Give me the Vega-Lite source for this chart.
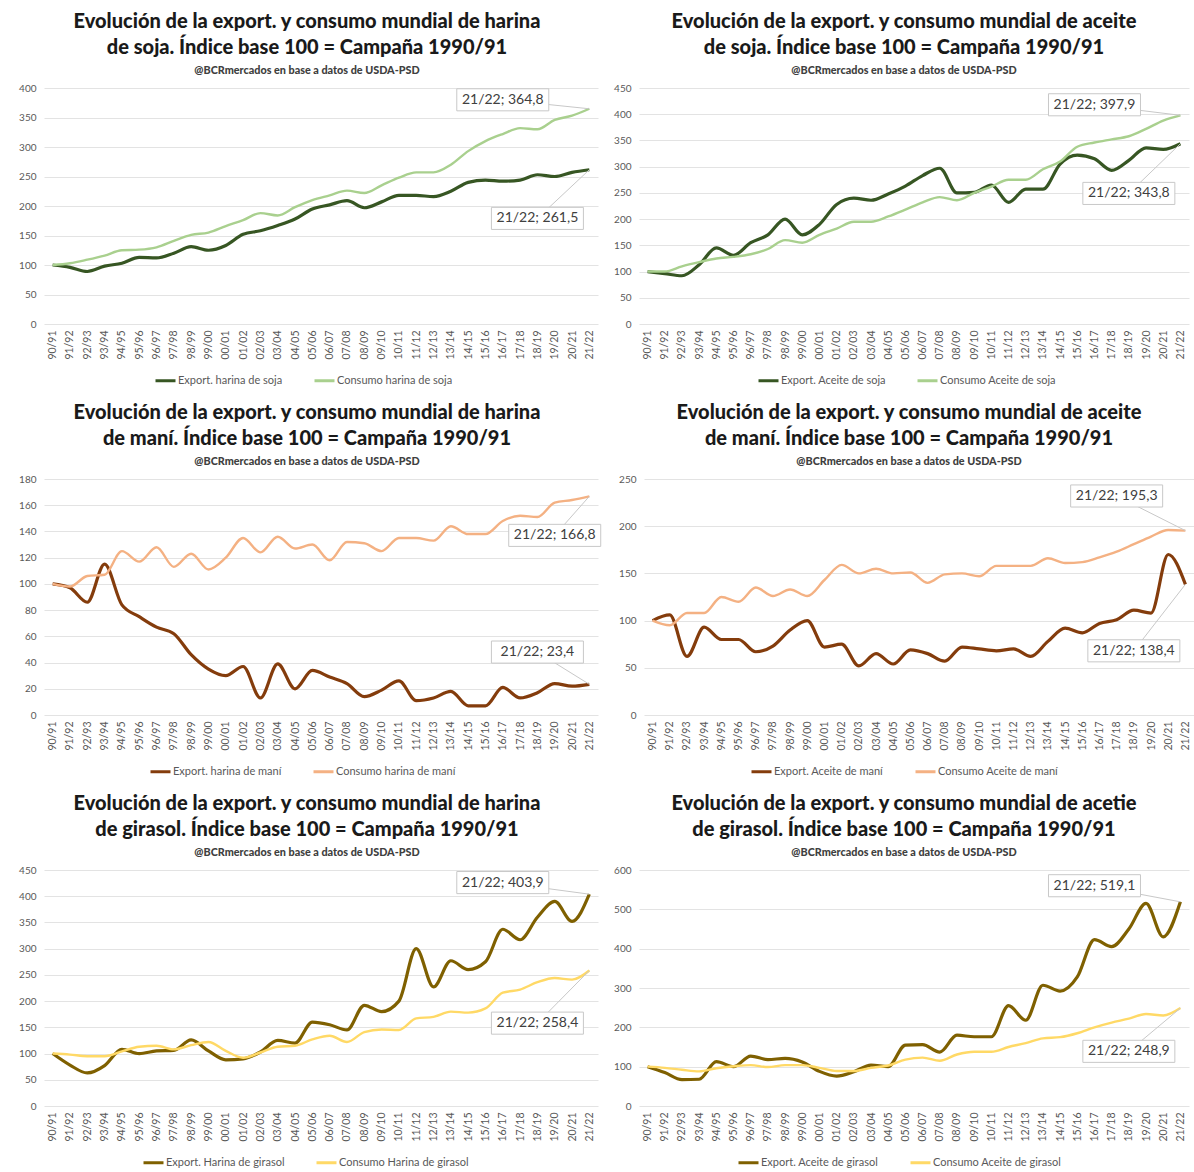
{
"$schema": "https://vega.github.io/schema/vega-lite/v6.json",
"background": "white",
"padding": {"left": 18, "top": 12, "right": 0, "bottom": 0},
"config": {
 "font": "Lato",
 "view": {"stroke": null},
 "axis": {"labelFont": "Lato", "labelFontSize": 10, "labelColor": "#595959", "ticks": false, "domain": false, "gridColor": "#e3e3e3"},
 "axisX": {"labelAngle": -90, "grid": false, "labelPadding": 6, "labelFontSize": 10.5},
 "axisY": {"grid": true, "labelPadding": 8},
 "legend": {"orient": "none", "legendY": 281, "direction": "horizontal", "title": null, "symbolType": "stroke", "symbolStrokeWidth": 3, "symbolSize": 400, "labelOffset": 1, "labelFontSize": 11, "labelColor": "#595959", "labelFont": "Lato", "columnPadding": 25},
 "title": {"anchor": "middle", "font": "Lato", "fontSize": 20, "fontWeight": 900, "color": "#1a1a1a", "lineHeight": 26, "subtitleFont": "Lato", "subtitleFontSize": 10.8, "subtitleFontWeight": 900, "subtitleColor": "#404040", "subtitlePadding": 7, "offset": 7}
},
"datasets": {
 "p1": [
  {"s":"90/91","e":100,"c":100},{"s":"91/92","e":96,"c":103},{"s":"92/93","e":89,"c":109},{"s":"93/94","e":98,"c":116},{"s":"94/95","e":103,"c":125},{"s":"95/96","e":113,"c":126},{"s":"96/97","e":112,"c":130},{"s":"97/98","e":120,"c":141},{"s":"98/99","e":131,"c":151},{"s":"99/00","e":125,"c":155},{"s":"00/01","e":133,"c":166},{"s":"01/02","e":152,"c":176},{"s":"02/03","e":158,"c":188},{"s":"03/04","e":167,"c":184},{"s":"04/05","e":178,"c":198},{"s":"05/06","e":195,"c":210},{"s":"06/07","e":202,"c":218},{"s":"07/08","e":209,"c":226},{"s":"08/09","e":197,"c":222},{"s":"09/10","e":207,"c":235},{"s":"10/11","e":218,"c":248},{"s":"11/12","e":218,"c":257},{"s":"12/13","e":216,"c":257},{"s":"13/14","e":225,"c":270},{"s":"14/15","e":240,"c":293},{"s":"15/16","e":244,"c":310},{"s":"16/17","e":242,"c":322},{"s":"17/18","e":244,"c":332},{"s":"18/19","e":253,"c":330},{"s":"19/20","e":250,"c":346},{"s":"20/21","e":257,"c":353},{"s":"21/22","e":261.5,"c":364.8}],
 "p2": [
  {"s":"90/91","e":100,"c":100},{"s":"91/92","e":96,"c":100},{"s":"92/93","e":92,"c":110},{"s":"93/94","e":113,"c":118},{"s":"94/95","e":145,"c":125},{"s":"95/96","e":131,"c":128},{"s":"96/97","e":155,"c":133},{"s":"97/98","e":170,"c":143},{"s":"98/99","e":200,"c":160},{"s":"99/00","e":170,"c":155},{"s":"00/01","e":190,"c":170},{"s":"01/02","e":228,"c":182},{"s":"02/03","e":240,"c":195},{"s":"03/04","e":236,"c":195},{"s":"04/05","e":248,"c":205},{"s":"05/06","e":263,"c":218},{"s":"06/07","e":283,"c":232},{"s":"07/08","e":297,"c":242},{"s":"08/09","e":250,"c":236},{"s":"09/10","e":251,"c":250},{"s":"10/11","e":265,"c":262},{"s":"11/12","e":232,"c":275},{"s":"12/13","e":257,"c":275},{"s":"13/14","e":257,"c":295},{"s":"14/15","e":305,"c":310},{"s":"15/16","e":322,"c":338},{"s":"16/17","e":315,"c":346},{"s":"17/18","e":293,"c":352},{"s":"18/19","e":312,"c":358},{"s":"19/20","e":336,"c":372},{"s":"20/21","e":333,"c":388},{"s":"21/22","e":343.8,"c":397.9}],
 "p3": [
  {"s":"90/91","e":100,"c":100},{"s":"91/92","e":97,"c":98},{"s":"92/93","e":86,"c":106},{"s":"93/94","e":115,"c":107},{"s":"94/95","e":84,"c":125},{"s":"95/96","e":75,"c":117},{"s":"96/97","e":67,"c":128},{"s":"97/98","e":62,"c":113},{"s":"98/99","e":46,"c":123},{"s":"99/00","e":35,"c":111},{"s":"00/01","e":30,"c":120},{"s":"01/02","e":37,"c":135},{"s":"02/03","e":13,"c":124},{"s":"03/04","e":39,"c":136},{"s":"04/05","e":20,"c":127},{"s":"05/06","e":34,"c":130},{"s":"06/07","e":29,"c":118},{"s":"07/08","e":24,"c":132},{"s":"08/09","e":14,"c":131},{"s":"09/10","e":19,"c":125},{"s":"10/11","e":26,"c":135},{"s":"11/12","e":11,"c":135},{"s":"12/13","e":13,"c":133},{"s":"13/14","e":18,"c":144},{"s":"14/15","e":7,"c":138},{"s":"15/16","e":7,"c":138},{"s":"16/17","e":21,"c":148},{"s":"17/18","e":13,"c":152},{"s":"18/19","e":17,"c":151},{"s":"19/20","e":24,"c":162},{"s":"20/21","e":22,"c":164},{"s":"21/22","e":23.4,"c":166.8}],
 "p4": [
  {"s":"90/91","e":100,"c":100},{"s":"91/92","e":106,"c":95},{"s":"92/93","e":62,"c":108},{"s":"93/94","e":93,"c":108},{"s":"94/95","e":80,"c":125},{"s":"95/96","e":80,"c":120},{"s":"96/97","e":67,"c":135},{"s":"97/98","e":73,"c":126},{"s":"98/99","e":90,"c":133},{"s":"99/00","e":100,"c":126},{"s":"00/01","e":72,"c":143},{"s":"01/02","e":75,"c":159},{"s":"02/03","e":52,"c":150},{"s":"03/04","e":65,"c":155},{"s":"04/05","e":54,"c":150},{"s":"05/06","e":69,"c":151},{"s":"06/07","e":65,"c":140},{"s":"07/08","e":57,"c":149},{"s":"08/09","e":72,"c":150},{"s":"09/10","e":70,"c":147},{"s":"10/11","e":68,"c":158},{"s":"11/12","e":70,"c":158},{"s":"12/13","e":62,"c":158},{"s":"13/14","e":78,"c":166},{"s":"14/15","e":92,"c":161},{"s":"15/16","e":87,"c":162},{"s":"16/17","e":97,"c":167},{"s":"17/18","e":101,"c":173},{"s":"18/19","e":111,"c":181},{"s":"19/20","e":108,"c":189},{"s":"20/21","e":170,"c":196},{"s":"21/22","e":138.4,"c":195.3}],
 "p5": [
  {"s":"90/91","e":100,"c":100},{"s":"91/92","e":78,"c":98},{"s":"92/93","e":63,"c":95},{"s":"93/94","e":77,"c":95},{"s":"94/95","e":108,"c":104},{"s":"95/96","e":100,"c":113},{"s":"96/97","e":105,"c":115},{"s":"97/98","e":106,"c":108},{"s":"98/99","e":126,"c":116},{"s":"99/00","e":105,"c":122},{"s":"00/01","e":88,"c":105},{"s":"01/02","e":90,"c":92},{"s":"02/03","e":103,"c":102},{"s":"03/04","e":125,"c":113},{"s":"04/05","e":120,"c":115},{"s":"05/06","e":160,"c":127},{"s":"06/07","e":155,"c":134},{"s":"07/08","e":145,"c":122},{"s":"08/09","e":192,"c":141},{"s":"09/10","e":180,"c":146},{"s":"10/11","e":200,"c":145},{"s":"11/12","e":300,"c":167},{"s":"12/13","e":227,"c":170},{"s":"13/14","e":277,"c":180},{"s":"14/15","e":260,"c":178},{"s":"15/16","e":275,"c":186},{"s":"16/17","e":337,"c":216},{"s":"17/18","e":317,"c":222},{"s":"18/19","e":360,"c":236},{"s":"19/20","e":390,"c":244},{"s":"20/21","e":352,"c":241},{"s":"21/22","e":403.9,"c":258.4}],
 "p6": [
  {"s":"90/91","e":100,"c":100},{"s":"91/92","e":85,"c":97},{"s":"92/93","e":67,"c":92},{"s":"93/94","e":68,"c":88},{"s":"94/95","e":113,"c":96},{"s":"95/96","e":100,"c":101},{"s":"96/97","e":127,"c":104},{"s":"97/98","e":118,"c":99},{"s":"98/99","e":121,"c":104},{"s":"99/00","e":112,"c":104},{"s":"00/01","e":88,"c":97},{"s":"01/02","e":76,"c":89},{"s":"02/03","e":87,"c":89},{"s":"03/04","e":104,"c":97},{"s":"04/05","e":100,"c":103},{"s":"05/06","e":155,"c":118},{"s":"06/07","e":156,"c":123},{"s":"07/08","e":137,"c":115},{"s":"08/09","e":180,"c":131},{"s":"09/10","e":176,"c":138},{"s":"10/11","e":176,"c":138},{"s":"11/12","e":255,"c":150},{"s":"12/13","e":218,"c":160},{"s":"13/14","e":307,"c":172},{"s":"14/15","e":292,"c":175},{"s":"15/16","e":328,"c":185},{"s":"16/17","e":423,"c":200},{"s":"17/18","e":405,"c":212},{"s":"18/19","e":450,"c":222},{"s":"19/20","e":515,"c":234},{"s":"20/21","e":430,"c":230},{"s":"21/22","e":519.1,"c":248.9}],
 "a1": [{"s":"16/17","v":380,"fv":364.8,"txt":"21/22; 364,8"},{"s":"18/19","v":179,"fv":261.5,"txt":"21/22; 261,5"}],
 "a2": [{"s":"16/17","v":418,"fv":397.9,"txt":"21/22; 397,9"},{"s":"18/19","v":249,"fv":343.8,"txt":"21/22; 343,8"}],
 "a3": [{"s":"19/20","v":137,"fv":166.8,"txt":"21/22; 166,8"},{"s":"18/19","v":48,"fv":23.4,"txt":"21/22; 23,4"}],
 "a4": [{"s":"17/18","v":232,"fv":195.3,"txt":"21/22; 195,3"},{"s":"18/19","v":68,"fv":138.4,"txt":"21/22; 138,4"}],
 "a5": [{"s":"16/17","v":426,"fv":403.9,"txt":"21/22; 403,9"},{"s":"18/19","v":158,"fv":258.4,"txt":"21/22; 258,4"}],
 "a6": [{"s":"16/17","v":560,"fv":519.1,"txt":"21/22; 519,1"},{"s":"18/19","v":139,"fv":248.9,"txt":"21/22; 248,9"}]
},
"resolve": {"scale": {"color": "independent"}},
"spacing": 16,
"vconcat": [
 {"hconcat": [
  {"width": 554, "height": 236,
   "title": {"text": ["Evolución de la export. y consumo mundial de harina", "de soja. Índice base 100 = Campaña 1990/91"], "subtitle": "@BCRmercados en base a datos de USDA-PSD", "dx": -14},
   "encoding": {"x": {"field": "s", "type": "ordinal", "title": null, "scale": {"type": "point", "padding": 0.5, "domain": ["90/91","91/92","92/93","93/94","94/95","95/96","96/97","97/98","98/99","99/00","00/01","01/02","02/03","03/04","04/05","05/06","06/07","07/08","08/09","09/10","10/11","11/12","12/13","13/14","14/15","15/16","16/17","17/18","18/19","19/20","20/21","21/22"]}}},
   "layer": [
    {"data": {"name": "p1"}, "mark": {"type": "line", "interpolate": "monotone", "strokeWidth": 3.2}, "encoding": {"y": {"field": "e", "type": "quantitative", "title": null, "scale": {"domain": [0, 400], "nice": false}, "axis": {"values": [0,50,100,150,200,250,300,350,400]}}, "color": {"datum": "Export. harina de soja", "scale": {"domain": ["Export. harina de soja", "Consumo harina de soja"], "range": ["#375623", "#A9D08E"]}, "legend": {"legendX": 110}}}},
    {"data": {"name": "p1"}, "mark": {"type": "line", "interpolate": "monotone", "strokeWidth": 2.4}, "encoding": {"y": {"field": "c", "type": "quantitative", "title": null, "axis": {"values": [0,50,100,150,200,250,300,350,400]}}, "color": {"datum": "Consumo harina de soja"}}},
    {"data": {"name": "a1"}, "mark": {"type": "rule", "color": "#c8c8c8", "strokeWidth": 1}, "encoding": {"y": {"field": "v", "type": "quantitative", "title": null, "axis": {"values": [0,50,100,150,200,250,300,350,400]}}, "x2": {"datum": "21/22"}, "y2": {"field": "fv"}}},
    {"data": {"name": "a1"}, "mark": {"type": "point", "shape": "M-1,-0.24H1V0.24H-1Z", "size": 8464, "filled": true, "fill": "white", "stroke": "#c8c8c8", "strokeWidth": 1, "opacity": 1}, "encoding": {"y": {"field": "v", "type": "quantitative", "title": null, "axis": {"values": [0,50,100,150,200,250,300,350,400]}}}},
    {"data": {"name": "a1"}, "mark": {"type": "text", "fontSize": 14, "color": "#404040"}, "encoding": {"y": {"field": "v", "type": "quantitative", "title": null, "axis": {"values": [0,50,100,150,200,250,300,350,400]}}, "text": {"field": "txt"}}}
   ]},
  {"width": 550, "height": 236,
   "title": {"text": ["Evolución de la export. y consumo mundial de aceite", "de soja. Índice base 100 = Campaña 1990/91"], "subtitle": "@BCRmercados en base a datos de USDA-PSD", "dx": -10},
   "encoding": {"x": {"field": "s", "type": "ordinal", "title": null, "scale": {"type": "point", "padding": 0.5, "domain": ["90/91","91/92","92/93","93/94","94/95","95/96","96/97","97/98","98/99","99/00","00/01","01/02","02/03","03/04","04/05","05/06","06/07","07/08","08/09","09/10","10/11","11/12","12/13","13/14","14/15","15/16","16/17","17/18","18/19","19/20","20/21","21/22"]}}},
   "layer": [
    {"data": {"name": "p2"}, "mark": {"type": "line", "interpolate": "monotone", "strokeWidth": 3.2}, "encoding": {"y": {"field": "e", "type": "quantitative", "title": null, "scale": {"domain": [0, 450], "nice": false}, "axis": {"values": [0,50,100,150,200,250,300,350,400,450]}}, "color": {"datum": "Export. Aceite de soja", "scale": {"domain": ["Export. Aceite de soja", "Consumo Aceite de soja"], "range": ["#375623", "#A9D08E"]}, "legend": {"legendX": 118}}}},
    {"data": {"name": "p2"}, "mark": {"type": "line", "interpolate": "monotone", "strokeWidth": 2.4}, "encoding": {"y": {"field": "c", "type": "quantitative", "title": null, "axis": {"values": [0,50,100,150,200,250,300,350,400,450]}}, "color": {"datum": "Consumo Aceite de soja"}}},
    {"data": {"name": "a2"}, "mark": {"type": "rule", "color": "#c8c8c8", "strokeWidth": 1}, "encoding": {"y": {"field": "v", "type": "quantitative", "title": null, "axis": {"values": [0,50,100,150,200,250,300,350,400,450]}}, "x2": {"datum": "21/22"}, "y2": {"field": "fv"}}},
    {"data": {"name": "a2"}, "mark": {"type": "point", "shape": "M-1,-0.24H1V0.24H-1Z", "size": 8464, "filled": true, "fill": "white", "stroke": "#c8c8c8", "strokeWidth": 1, "opacity": 1}, "encoding": {"y": {"field": "v", "type": "quantitative", "title": null, "axis": {"values": [0,50,100,150,200,250,300,350,400,450]}}}},
    {"data": {"name": "a2"}, "mark": {"type": "text", "fontSize": 14, "color": "#404040"}, "encoding": {"y": {"field": "v", "type": "quantitative", "title": null, "axis": {"values": [0,50,100,150,200,250,300,350,400,450]}}, "text": {"field": "txt"}}}
   ]}
 ], "spacing": 15, "resolve": {"scale": {"color": "independent"}}},
 {"hconcat": [
  {"width": 554, "height": 236,
   "title": {"text": ["Evolución de la export. y consumo mundial de harina", "de maní. Índice base 100 = Campaña 1990/91"], "subtitle": "@BCRmercados en base a datos de USDA-PSD", "dx": -14},
   "encoding": {"x": {"field": "s", "type": "ordinal", "title": null, "scale": {"type": "point", "padding": 0.5, "domain": ["90/91","91/92","92/93","93/94","94/95","95/96","96/97","97/98","98/99","99/00","00/01","01/02","02/03","03/04","04/05","05/06","06/07","07/08","08/09","09/10","10/11","11/12","12/13","13/14","14/15","15/16","16/17","17/18","18/19","19/20","20/21","21/22"]}}},
   "layer": [
    {"data": {"name": "p3"}, "mark": {"type": "line", "interpolate": "monotone", "strokeWidth": 3.2}, "encoding": {"y": {"field": "e", "type": "quantitative", "title": null, "scale": {"domain": [0, 180], "nice": false}, "axis": {"values": [0,20,40,60,80,100,120,140,160,180]}}, "color": {"datum": "Export. harina de maní", "scale": {"domain": ["Export. harina de maní", "Consumo harina de maní"], "range": ["#843C0C", "#F4B183"]}, "legend": {"legendX": 105}}}},
    {"data": {"name": "p3"}, "mark": {"type": "line", "interpolate": "monotone", "strokeWidth": 2.4}, "encoding": {"y": {"field": "c", "type": "quantitative", "title": null, "axis": {"values": [0,20,40,60,80,100,120,140,160,180]}}, "color": {"datum": "Consumo harina de maní"}}},
    {"data": {"name": "a3"}, "mark": {"type": "rule", "color": "#c8c8c8", "strokeWidth": 1}, "encoding": {"y": {"field": "v", "type": "quantitative", "title": null, "axis": {"values": [0,20,40,60,80,100,120,140,160,180]}}, "x2": {"datum": "21/22"}, "y2": {"field": "fv"}}},
    {"data": {"name": "a3"}, "mark": {"type": "point", "shape": "M-1,-0.24H1V0.24H-1Z", "size": 8464, "filled": true, "fill": "white", "stroke": "#c8c8c8", "strokeWidth": 1, "opacity": 1}, "encoding": {"y": {"field": "v", "type": "quantitative", "title": null, "axis": {"values": [0,20,40,60,80,100,120,140,160,180]}}}},
    {"data": {"name": "a3"}, "mark": {"type": "text", "fontSize": 14, "color": "#404040"}, "encoding": {"y": {"field": "v", "type": "quantitative", "title": null, "axis": {"values": [0,20,40,60,80,100,120,140,160,180]}}, "text": {"field": "txt"}}}
   ]},
  {"width": 550, "height": 236,
   "title": {"text": ["Evolución de la export. y consumo mundial de aceite", "de maní. Índice base 100 = Campaña 1990/91"], "subtitle": "@BCRmercados en base a datos de USDA-PSD", "dx": -10},
   "encoding": {"x": {"field": "s", "type": "ordinal", "title": null, "scale": {"type": "point", "padding": 0.5, "domain": ["90/91","91/92","92/93","93/94","94/95","95/96","96/97","97/98","98/99","99/00","00/01","01/02","02/03","03/04","04/05","05/06","06/07","07/08","08/09","09/10","10/11","11/12","12/13","13/14","14/15","15/16","16/17","17/18","18/19","19/20","20/21","21/22"]}}},
   "layer": [
    {"data": {"name": "p4"}, "mark": {"type": "line", "interpolate": "monotone", "strokeWidth": 3.2}, "encoding": {"y": {"field": "e", "type": "quantitative", "title": null, "scale": {"domain": [0, 250], "nice": false}, "axis": {"values": [0,50,100,150,200,250]}}, "color": {"datum": "Export. Aceite de maní", "scale": {"domain": ["Export. Aceite de maní", "Consumo Aceite de maní"], "range": ["#843C0C", "#F4B183"]}, "legend": {"legendX": 106}}}},
    {"data": {"name": "p4"}, "mark": {"type": "line", "interpolate": "monotone", "strokeWidth": 2.4}, "encoding": {"y": {"field": "c", "type": "quantitative", "title": null, "axis": {"values": [0,50,100,150,200,250]}}, "color": {"datum": "Consumo Aceite de maní"}}},
    {"data": {"name": "a4"}, "mark": {"type": "rule", "color": "#c8c8c8", "strokeWidth": 1}, "encoding": {"y": {"field": "v", "type": "quantitative", "title": null, "axis": {"values": [0,50,100,150,200,250]}}, "x2": {"datum": "21/22"}, "y2": {"field": "fv"}}},
    {"data": {"name": "a4"}, "mark": {"type": "point", "shape": "M-1,-0.24H1V0.24H-1Z", "size": 8464, "filled": true, "fill": "white", "stroke": "#c8c8c8", "strokeWidth": 1, "opacity": 1}, "encoding": {"y": {"field": "v", "type": "quantitative", "title": null, "axis": {"values": [0,50,100,150,200,250]}}}},
    {"data": {"name": "a4"}, "mark": {"type": "text", "fontSize": 14, "color": "#404040"}, "encoding": {"y": {"field": "v", "type": "quantitative", "title": null, "axis": {"values": [0,50,100,150,200,250]}}, "text": {"field": "txt"}}}
   ]}
 ], "spacing": 15, "resolve": {"scale": {"color": "independent"}}},
 {"hconcat": [
  {"width": 554, "height": 236,
   "title": {"text": ["Evolución de la export. y consumo mundial de harina", "de girasol. Índice base 100 = Campaña 1990/91"], "subtitle": "@BCRmercados en base a datos de USDA-PSD", "dx": -14},
   "encoding": {"x": {"field": "s", "type": "ordinal", "title": null, "scale": {"type": "point", "padding": 0.5, "domain": ["90/91","91/92","92/93","93/94","94/95","95/96","96/97","97/98","98/99","99/00","00/01","01/02","02/03","03/04","04/05","05/06","06/07","07/08","08/09","09/10","10/11","11/12","12/13","13/14","14/15","15/16","16/17","17/18","18/19","19/20","20/21","21/22"]}}},
   "layer": [
    {"data": {"name": "p5"}, "mark": {"type": "line", "interpolate": "monotone", "strokeWidth": 3.2}, "encoding": {"y": {"field": "e", "type": "quantitative", "title": null, "scale": {"domain": [0, 450], "nice": false}, "axis": {"values": [0,50,100,150,200,250,300,350,400,450]}}, "color": {"datum": "Export. Harina de girasol", "scale": {"domain": ["Export. Harina de girasol", "Consumo Harina de girasol"], "range": ["#7F6000", "#FFD966"]}, "legend": {"legendX": 98}}}},
    {"data": {"name": "p5"}, "mark": {"type": "line", "interpolate": "monotone", "strokeWidth": 2.4}, "encoding": {"y": {"field": "c", "type": "quantitative", "title": null, "axis": {"values": [0,50,100,150,200,250,300,350,400,450]}}, "color": {"datum": "Consumo Harina de girasol"}}},
    {"data": {"name": "a5"}, "mark": {"type": "rule", "color": "#c8c8c8", "strokeWidth": 1}, "encoding": {"y": {"field": "v", "type": "quantitative", "title": null, "axis": {"values": [0,50,100,150,200,250,300,350,400,450]}}, "x2": {"datum": "21/22"}, "y2": {"field": "fv"}}},
    {"data": {"name": "a5"}, "mark": {"type": "point", "shape": "M-1,-0.24H1V0.24H-1Z", "size": 8464, "filled": true, "fill": "white", "stroke": "#c8c8c8", "strokeWidth": 1, "opacity": 1}, "encoding": {"y": {"field": "v", "type": "quantitative", "title": null, "axis": {"values": [0,50,100,150,200,250,300,350,400,450]}}}},
    {"data": {"name": "a5"}, "mark": {"type": "text", "fontSize": 14, "color": "#404040"}, "encoding": {"y": {"field": "v", "type": "quantitative", "title": null, "axis": {"values": [0,50,100,150,200,250,300,350,400,450]}}, "text": {"field": "txt"}}}
   ]},
  {"width": 550, "height": 236,
   "title": {"text": ["Evolución de la export. y consumo mundial de acetie", "de girasol. Índice base 100 = Campaña 1990/91"], "subtitle": "@BCRmercados en base a datos de USDA-PSD", "dx": -10},
   "encoding": {"x": {"field": "s", "type": "ordinal", "title": null, "scale": {"type": "point", "padding": 0.5, "domain": ["90/91","91/92","92/93","93/94","94/95","95/96","96/97","97/98","98/99","99/00","00/01","01/02","02/03","03/04","04/05","05/06","06/07","07/08","08/09","09/10","10/11","11/12","12/13","13/14","14/15","15/16","16/17","17/18","18/19","19/20","20/21","21/22"]}}},
   "layer": [
    {"data": {"name": "p6"}, "mark": {"type": "line", "interpolate": "monotone", "strokeWidth": 3.2}, "encoding": {"y": {"field": "e", "type": "quantitative", "title": null, "scale": {"domain": [0, 600], "nice": false}, "axis": {"values": [0,100,200,300,400,500,600]}}, "color": {"datum": "Export. Aceite de girasol", "scale": {"domain": ["Export. Aceite de girasol", "Consumo Aceite de girasol"], "range": ["#7F6000", "#FFD966"]}, "legend": {"legendX": 98}}}},
    {"data": {"name": "p6"}, "mark": {"type": "line", "interpolate": "monotone", "strokeWidth": 2.4}, "encoding": {"y": {"field": "c", "type": "quantitative", "title": null, "axis": {"values": [0,100,200,300,400,500,600]}}, "color": {"datum": "Consumo Aceite de girasol"}}},
    {"data": {"name": "a6"}, "mark": {"type": "rule", "color": "#c8c8c8", "strokeWidth": 1}, "encoding": {"y": {"field": "v", "type": "quantitative", "title": null, "axis": {"values": [0,100,200,300,400,500,600]}}, "x2": {"datum": "21/22"}, "y2": {"field": "fv"}}},
    {"data": {"name": "a6"}, "mark": {"type": "point", "shape": "M-1,-0.24H1V0.24H-1Z", "size": 8464, "filled": true, "fill": "white", "stroke": "#c8c8c8", "strokeWidth": 1, "opacity": 1}, "encoding": {"y": {"field": "v", "type": "quantitative", "title": null, "axis": {"values": [0,100,200,300,400,500,600]}}}},
    {"data": {"name": "a6"}, "mark": {"type": "text", "fontSize": 14, "color": "#404040"}, "encoding": {"y": {"field": "v", "type": "quantitative", "title": null, "axis": {"values": [0,100,200,300,400,500,600]}}, "text": {"field": "txt"}}}
   ]}
 ], "spacing": 15, "resolve": {"scale": {"color": "independent"}}}
]
}
